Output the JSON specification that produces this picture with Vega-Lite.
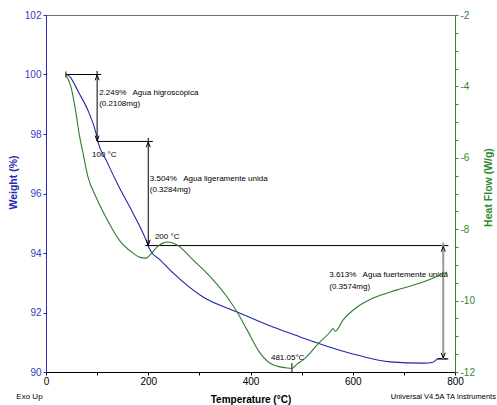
{
  "$schema": "https://vega.github.io/schema/vega-lite/v6.json",
  "width": 409,
  "height": 357,
  "autosize": "none",
  "padding": {"left": 46, "top": 15, "right": 42, "bottom": 33},
  "background": "white",
  "config": {
    "view": {"stroke": "#707070", "strokeWidth": 1},
    "font": "Liberation Sans, Arial, sans-serif",
    "axis": {"grid": false, "labelFont": "Liberation Sans, Arial, sans-serif", "titleFont": "Liberation Sans, Arial, sans-serif"}
  },
  "datasets": {
    "tga": [
      {"T": 39.1, "W": 100.0}, {"T": 44, "W": 99.97}, {"T": 48.9, "W": 99.88}, {"T": 56, "W": 99.66}, {"T": 64.6, "W": 99.38},
      {"T": 84.1, "W": 98.71}, {"T": 97.8, "W": 98.03}, {"T": 101.8, "W": 97.73}, {"T": 117.4, "W": 97.13},
      {"T": 142.9, "W": 96.22}, {"T": 170.3, "W": 95.34}, {"T": 195.7, "W": 94.44}, {"T": 203.5, "W": 94.10},
      {"T": 223.1, "W": 93.77}, {"T": 248.5, "W": 93.33}, {"T": 307.2, "W": 92.52}, {"T": 373.8, "W": 92.02},
      {"T": 444.2, "W": 91.51}, {"T": 497.1, "W": 91.18}, {"T": 542.1, "W": 90.91}, {"T": 608.6, "W": 90.57},
      {"T": 673.2, "W": 90.34}, {"T": 737.8, "W": 90.30}, {"T": 757.3, "W": 90.33}, {"T": 767.1, "W": 90.45},
      {"T": 784.7, "W": 90.44}
    ],
    "dsc": [
      {"T": 39.1, "H": -3.68}, {"T": 48.9, "H": -4.02}, {"T": 58.7, "H": -4.75}, {"T": 64.6, "H": -5.31},
      {"T": 72.4, "H": -5.87}, {"T": 82.2, "H": -6.54}, {"T": 97.8, "H": -7.10}, {"T": 123.3, "H": -7.83},
      {"T": 142.9, "H": -8.30}, {"T": 170.3, "H": -8.67}, {"T": 184, "H": -8.79}, {"T": 195.7, "H": -8.81},
      {"T": 203.5, "H": -8.72}, {"T": 217.2, "H": -8.50}, {"T": 229, "H": -8.39}, {"T": 238.7, "H": -8.36},
      {"T": 256.4, "H": -8.44}, {"T": 287.7, "H": -8.86}, {"T": 326.8, "H": -9.42}, {"T": 354.2, "H": -9.90},
      {"T": 373.8, "H": -10.32}, {"T": 393.3, "H": -10.82}, {"T": 418.8, "H": -11.47}, {"T": 444.2, "H": -11.80},
      {"T": 471.6, "H": -11.89}, {"T": 481, "H": -11.90}, {"T": 491, "H": -11.78}, {"T": 503, "H": -11.66},
      {"T": 516.6, "H": -11.47}, {"T": 530.3, "H": -11.24}, {"T": 555.8, "H": -10.88}, {"T": 561.6, "H": -10.78},
      {"T": 565.5, "H": -10.86}, {"T": 581.2, "H": -10.54}, {"T": 608.6, "H": -10.18}, {"T": 639.9, "H": -9.93},
      {"T": 686.9, "H": -9.70}, {"T": 737.8, "H": -9.48}, {"T": 784.7, "H": -9.20}
    ],
    "segs": [
      {"T": 39, "T2": 108, "W": 100, "W2": 100},
      {"T": 100, "T2": 100, "W": 100.12, "W2": 97.75},
      {"T": 100, "T2": 209, "W": 97.75, "W2": 97.75},
      {"T": 200, "T2": 200, "W": 97.87, "W2": 94.25},
      {"T": 194, "T2": 787, "W": 94.25, "W2": 94.25},
      {"T": 39, "T2": 39, "W": 100.1, "W2": 99.9},
      {"T": 767, "T2": 787, "W": 90.44, "W2": 90.44},
      {"T": 481.05, "T2": 481.05, "W": 90.0, "W2": 90.3}
    ],
    "heads": [
      {"T": 100, "W": 99.98, "dir": "up"}, {"T": 100, "W": 97.77, "dir": "down"},
      {"T": 200, "W": 97.73, "dir": "up"}, {"T": 200, "W": 94.27, "dir": "down"},
      {"T": 777, "W": 94.22, "dir": "up"}, {"T": 777, "W": 90.47, "dir": "down"}
    ],
    "labels": [
      {"T": 104, "W": 99.38, "text": "2.249%\u00a0\u00a0 Agua higroscópica"},
      {"T": 104, "W": 99.01, "text": "(0.2108mg)"},
      {"T": 90, "W": 97.29, "text": "100 °C"},
      {"T": 203, "W": 96.48, "text": "3.504%\u00a0\u00a0 Agua ligeramente unida"},
      {"T": 203, "W": 96.12, "text": "(0.3284mg)"},
      {"T": 213, "W": 94.53, "text": "200 °C"},
      {"T": 554, "W": 93.26, "text": "3.613%\u00a0\u00a0 Agua fuertemente unida"},
      {"T": 554, "W": 92.87, "text": "(0.3574mg)"},
      {"T": 440, "W": 90.46, "text": "481.05°C"}
    ]
  },
  "layer": [
    {
      "layer": [
        {
          "data": {"name": "tga"},
          "mark": {"type": "line", "color": "#2424a8", "strokeWidth": 1.1, "interpolate": "monotone"},
          "encoding": {
            "x": {"field": "T", "type": "quantitative", "scale": {"domain": [0, 800], "nice": false},
              "axis": {"title": "Temperature (°C)", "values": [0,50,100,150,200,250,300,350,400,450,500,550,600,650,700,750,800],
                "labelExpr": "datum.value % 200 == 0 ? '' + datum.value : ''", "domainColor": "#000000", "tickColor": "#000000",
                "tickSize": 3, "labelFontSize": 10, "labelColor": "#000000", "labelPadding": 1, "labelFlush": false,
                "titleFontSize": 10, "titleFontWeight": "bold", "titleColor": "#000000", "titlePadding": 8}},
            "y": {"field": "W", "type": "quantitative", "scale": {"domain": [90, 102], "nice": false, "zero": false},
              "axis": {"title": "Weight (%)", "values": [90,90.5,91,91.5,92,92.5,93,93.5,94,94.5,95,95.5,96,96.5,97,97.5,98,98.5,99,99.5,100,100.5,101,101.5,102],
                "labelExpr": "datum.value % 2 == 0 ? '' + datum.value : ''", "domainColor": "#2a2ab0", "tickColor": "#2a2ab0",
                "tickSize": 3, "labelFontSize": 10, "labelColor": "#3a3ac0", "labelPadding": 2,
                "titleFontSize": 10.5, "titleFontWeight": "bold", "titleColor": "#2a2ab0", "titleAngle": 270,
                "titleBaseline": "middle", "titleAlign": "center", "titleX": -33, "titleY": 167}}
          }
        },
        {
          "data": {"name": "segs"},
          "mark": {"type": "rule", "color": "#000000", "strokeWidth": 1},
          "encoding": {
            "x": {"field": "T", "type": "quantitative", "scale": {"domain": [0, 800], "nice": false}},
            "x2": {"field": "T2"},
            "y": {"field": "W", "type": "quantitative", "title": "Weight (%)"},
            "y2": {"field": "W2"}
          }
        },
        {
          "data": {"values": [{"T": 777, "W": 94.35, "W2": 90.44}]},
          "mark": {"type": "rule", "color": "#9a9a9a", "strokeWidth": 2},
          "encoding": {
            "x": {"field": "T", "type": "quantitative", "scale": {"domain": [0, 800], "nice": false}},
            "y": {"field": "W", "type": "quantitative", "title": "Weight (%)"},
            "y2": {"field": "W2"}
          }
        },
        {
          "data": {"name": "heads"},
          "mark": {"type": "point", "filled": false, "color": "#000000", "strokeWidth": 1, "size": 16, "opacity": 1},
          "encoding": {
            "x": {"field": "T", "type": "quantitative", "scale": {"domain": [0, 800], "nice": false}},
            "y": {"field": "W", "type": "quantitative", "title": "Weight (%)"},
            "shape": {"field": "dir", "type": "nominal", "legend": null,
              "scale": {"domain": ["up", "down"], "range": ["M-1,2.6L0,0L1,2.6", "M-1,-2.6L0,0L1,-2.6"]}}
          }
        },
        {
          "data": {"name": "labels"},
          "mark": {"type": "text", "align": "left", "baseline": "middle", "fontSize": 8, "color": "#000000"},
          "encoding": {
            "x": {"field": "T", "type": "quantitative", "scale": {"domain": [0, 800], "nice": false}},
            "y": {"field": "W", "type": "quantitative", "title": "Weight (%)"},
            "text": {"field": "text"}
          }
        },
        {
          "data": {"values": [{"T": -58, "W": 89.16, "text": "Exo Up"}]},
          "mark": {"type": "text", "align": "left", "baseline": "middle", "fontSize": 8, "color": "#000000"},
          "encoding": {
            "x": {"field": "T", "type": "quantitative", "scale": {"domain": [0, 800], "nice": false}},
            "y": {"field": "W", "type": "quantitative", "title": "Weight (%)"},
            "text": {"field": "text"}
          }
        },
        {
          "data": {"values": [{"T": 880, "W": 89.16, "text": "Universal V4.5A TA Instruments"}]},
          "mark": {"type": "text", "align": "right", "baseline": "middle", "fontSize": 7.5, "color": "#000000"},
          "encoding": {
            "x": {"field": "T", "type": "quantitative", "scale": {"domain": [0, 800], "nice": false}},
            "y": {"field": "W", "type": "quantitative", "title": "Weight (%)"},
            "text": {"field": "text"}
          }
        }
      ]
    },
    {
      "data": {"name": "dsc"},
      "mark": {"type": "line", "color": "#2e7d2e", "strokeWidth": 1.1, "interpolate": "monotone"},
      "encoding": {
        "x": {"field": "T", "type": "quantitative", "scale": {"domain": [0, 800], "nice": false}},
        "y": {"field": "H", "type": "quantitative", "scale": {"domain": [-12, -2], "nice": false, "zero": false},
          "axis": {"orient": "right", "title": "Heat Flow (W/g)", "values": [-12,-11.5,-11,-10.5,-10,-9.5,-9,-8.5,-8,-7.5,-7,-6.5,-6,-5.5,-5,-4.5,-4,-3.5,-3,-2.5,-2],
            "labelExpr": "datum.value % 2 == 0 ? '' + datum.value : ''", "domainColor": "#2e8b2e", "tickColor": "#2e8b2e",
            "tickSize": 3, "labelFontSize": 10, "labelColor": "#2e8b2e", "labelPadding": 2,
            "titleFontSize": 10.5, "titleFontWeight": "bold", "titleColor": "#2e8b2e", "titleAngle": 270,
            "titleBaseline": "middle", "titleAlign": "center", "titleX": 33, "titleY": 172}}
      }
    }
  ],
  "resolve": {"scale": {"y": "independent"}}
}
